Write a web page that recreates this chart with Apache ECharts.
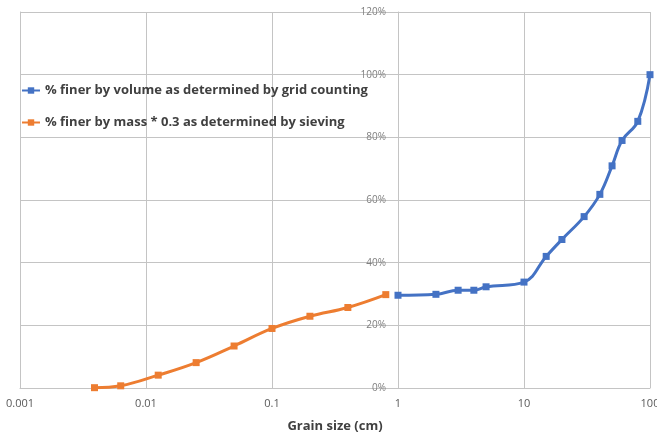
<!DOCTYPE html>
<html>
<head>
<meta charset="utf-8">
<script src="https://cdn.jsdelivr.net/npm/echarts@6/dist/echarts.min.js"></script>
<style>
  html, body { margin: 0; padding: 0; background: #fff; }
  #chart { width: 657px; height: 436px; }
</style>
</head>
<body>
<div id="chart"></div>
<script>
// Grain size (cm) and cumulative % finer for each method
const volumeSizes = [1, 2, 3, 4, 5, 10, 15, 20, 30, 40, 50, 60, 80, 100];
const volumeFiner = [29.6, 29.9, 31.2, 31.2, 32.3, 33.8, 42.0, 47.4, 54.7, 61.8, 70.9, 79.0, 85.1, 100];
const massSizes = [0.0039, 0.0063, 0.0125, 0.025, 0.05, 0.1, 0.2, 0.4, 0.8];
const massFiner = [0.1, 0.7, 4.1, 8.1, 13.4, 19.0, 22.9, 25.7, 29.8];
const xTickLabels = ['0.001', '0.01', '0.1', '1', '10', '100'];
const seriesNames = [
  '% finer by volume as determined by grid counting',
  '% finer by mass * 0.3 as determined by sieving'
];

const FONT = '"Open Sans", "Noto Sans", sans-serif';
const GRID_COLOR = '#c4c4c4';

const chart = echarts.init(document.getElementById('chart'));

const zip = (xs, ys) => xs.map((x, i) => [x, ys[i]]);

chart.setOption({
  animation: false,
  backgroundColor: '#ffffff',
  grid: [
    { left: 20, right: 7, top: 12, bottom: 48, outerBoundsMode: 'none', containLabel: false },
    // second grid starts at x = 1 so its y axis sits on that vertical line
    { left: 398, right: 7, top: 12, bottom: 48, outerBoundsMode: 'none', containLabel: false }
  ],
  legend: {
    orient: 'vertical',
    left: 16,
    top: 79,
    itemGap: 19,
    itemWidth: 18,
    itemHeight: 8,
    textStyle: { fontFamily: FONT, fontSize: 13, fontWeight: 'bold', color: '#404040' },
    data: seriesNames
  },
  xAxis: [
    {
      gridIndex: 0,
      type: 'log',
      logBase: 10,
      min: 0.001,
      max: 100,
      name: 'Grain size (cm)',
      nameLocation: 'middle',
      nameGap: 32,
      nameTextStyle: { fontFamily: FONT, fontSize: 13, fontWeight: 'bold', color: '#404040' },
      axisLine: { lineStyle: { color: GRID_COLOR } },
      axisTick: { show: false },
      axisLabel: {
        margin: 10,
        fontFamily: FONT,
        fontSize: 11,
        color: '#595959',
        formatter: v => xTickLabels[Math.round(Math.log10(v)) + 3]
      },
      splitLine: { show: true, lineStyle: { color: GRID_COLOR, width: 1 } },
      minorTick: { show: false }
    },
    {
      gridIndex: 1,
      type: 'value',
      min: 0,
      max: 1,
      show: false
    }
  ],
  yAxis: [
    {
      gridIndex: 0,
      type: 'value',
      min: 0,
      max: 120,
      interval: 20,
      axisLine: { show: true, lineStyle: { color: GRID_COLOR } },
      axisTick: { show: false },
      axisLabel: { show: false },
      splitLine: { show: true, lineStyle: { color: GRID_COLOR, width: 1 } }
    },
    {
      gridIndex: 1,
      type: 'value',
      min: 0,
      max: 120,
      interval: 20,
      axisLine: { show: true, lineStyle: { color: GRID_COLOR } },
      axisTick: { show: false },
      splitLine: { show: false },
      axisLabel: {
        margin: 12,
        fontFamily: FONT,
        fontSize: 10,
        color: '#7f7f7f',
        formatter: '{value}%'
      }
    }
  ],
  series: [
    {
      name: seriesNames[0],
      type: 'line',
      xAxisIndex: 0,
      yAxisIndex: 0,
      data: zip(volumeSizes, volumeFiner),
      smooth: 0.4,
      symbol: 'rect',
      symbolSize: 7,
      lineStyle: { width: 3, color: '#4472C4' },
      itemStyle: { color: '#4472C4' },
      z: 3
    },
    {
      name: seriesNames[1],
      type: 'line',
      xAxisIndex: 0,
      yAxisIndex: 0,
      data: zip(massSizes, massFiner),
      smooth: 0.4,
      symbol: 'rect',
      symbolSize: 7,
      lineStyle: { width: 3, color: '#ED7D31' },
      itemStyle: { color: '#ED7D31' },
      z: 3
    }
  ]
});
</script>
</body>
</html>
